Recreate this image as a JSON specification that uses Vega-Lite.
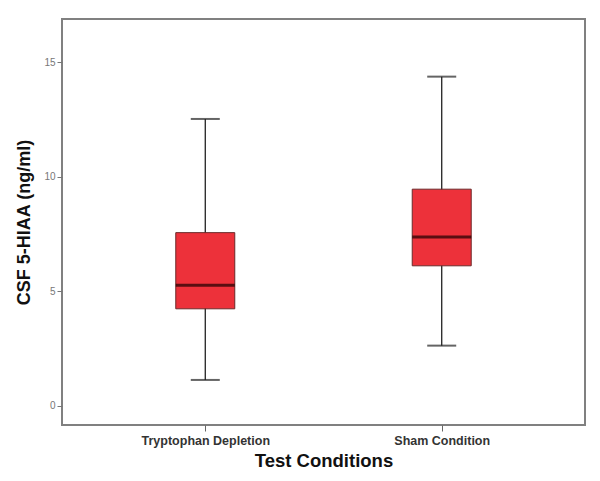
{
  "$schema": "https://vega.github.io/schema/vega-lite/v6.json",
  "width": 523,
  "height": 406,
  "autosize": {"type": "none"},
  "padding": {"left": 62, "top": 19, "right": 15, "bottom": 56},
  "background": "white",
  "config": {
    "view": {"stroke": "#808080", "strokeWidth": 2},
    "axis": {"grid": false, "domain": false, "labelFont": "Arial", "titleFont": "Arial"}
  },
  "data": {
    "values": [
      {"condition": "Tryptophan Depletion", "min": 1.12, "q1": 4.23, "median": 5.26, "q3": 7.56, "max": 12.53},
      {"condition": "Sham Condition", "min": 2.62, "q1": 6.11, "median": 7.37, "q3": 9.46, "max": 14.38}
    ]
  },
  "encoding": {
    "x": {
      "field": "condition",
      "type": "nominal",
      "sort": ["Tryptophan Depletion", "Sham Condition"],
      "scale": {"type": "point", "padding": 0.606},
      "axis": {
        "title": "Test Conditions",
        "titleFontSize": 18.5,
        "titleFontWeight": "bold",
        "titleColor": "#111111",
        "titlePadding": 5,
        "labelAngle": 0,
        "labelFontSize": 12.5,
        "labelFontWeight": "bold",
        "labelColor": "#333333",
        "labelPadding": 3,
        "tickColor": "#666666",
        "tickSize": 6,
        "tickWidth": 1
      }
    }
  },
  "layer": [
    {
      "mark": {"type": "rule", "color": "#222222", "strokeWidth": 1.3},
      "encoding": {
        "y": {
          "field": "min",
          "type": "quantitative",
          "scale": {"domain": [-0.85, 16.9], "nice": false, "zero": false},
          "axis": {
            "title": "CSF 5-HIAA (ng/ml)",
            "titleFontSize": 18,
            "titleFontWeight": "bold",
            "titleColor": "#111111",
            "titlePadding": 10,
            "values": [0, 5, 10, 15],
            "labelFontSize": 10,
            "labelColor": "#777777",
            "labelPadding": 2,
            "tickColor": "#777777",
            "tickSize": 5,
            "tickWidth": 1
          }
        },
        "y2": {"field": "max"}
      }
    },
    {
      "mark": {"type": "tick", "color": "#222222", "size": 29, "thickness": 2},
      "encoding": {"y": {"field": "min", "type": "quantitative"}}
    },
    {
      "mark": {"type": "tick", "color": "#222222", "size": 29, "thickness": 2},
      "encoding": {"y": {"field": "max", "type": "quantitative"}}
    },
    {
      "mark": {"type": "bar", "size": 59, "color": "#ED313A", "stroke": "#6b2a2a", "strokeWidth": 1},
      "encoding": {
        "y": {"field": "q1", "type": "quantitative"},
        "y2": {"field": "q3"}
      }
    },
    {
      "mark": {"type": "tick", "color": "#1a0000", "size": 59, "thickness": 3},
      "encoding": {"y": {"field": "median", "type": "quantitative"}}
    }
  ]
}
